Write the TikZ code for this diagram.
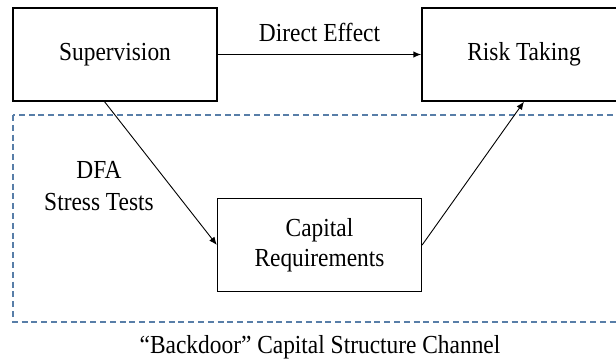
\documentclass[tikz,border=0pt]{standalone}
\usepackage{fontspec}
\setmainfont{Liberation Serif}[FakeStretch=0.9]
\usetikzlibrary{arrows.meta}
\definecolor{dashblue}{RGB}{88,126,168}
\begin{document}
\begin{tikzpicture}[x=1pt,y=-1pt,
  box/.style={draw=black,line width=1.3pt,minimum width=204pt,minimum height=93pt,inner sep=0pt,font=\fontsize{26}{32}\selectfont,align=center},
  lbl/.style={font=\fontsize{26}{32}\selectfont,align=center,inner sep=0pt},
  arr/.style={-{Latex[length=8pt,width=6.5pt]},line width=0.9pt},
  arrthick/.style={-{Latex[length=8pt,width=6.5pt]},line width=1.4pt}]
\useasboundingbox (0,0) rectangle (616,362);
\draw[dashblue,line width=1.2pt,dash pattern=on 6pt off 3.8pt] (13,115) rectangle (640,322);
\node[box] (sup) at (115,54.5) {\raisebox{-2pt}{Supervision}};
\node[box] (risk) at (524,54.5) {\raisebox{-2pt}{Risk Taking}};
\node[box] (cap) at (319.5,245) {\raisebox{-2pt}{Capital}\\Requirements};
\coordinate (supout) at (104,101);
\draw[arrthick] (sup.east) -- node[lbl,above=12pt] (de) {Direct Effect} (risk.west);
\draw[arr] (supout) -- (cap.west);
\draw[arr] (cap.east) -- (risk.south);
\node[lbl] (dfa) at (99,186) {DFA\\Stress Tests};
\node[lbl] (cap2) at (320,347) {``Backdoor'' Capital Structure Channel};
\end{tikzpicture}
\end{document}
